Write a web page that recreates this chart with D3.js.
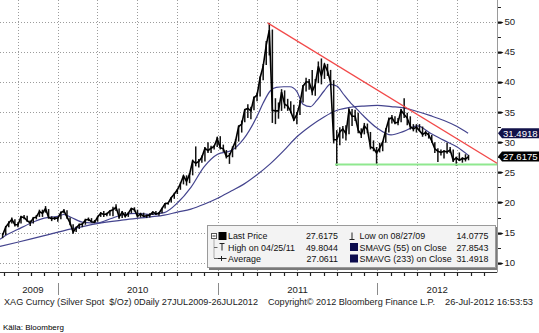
<!DOCTYPE html>
<html>
<head>
<meta charset="utf-8">
<script src="https://cdn.jsdelivr.net/npm/d3@7"></script>
<style>
  html, body { margin: 0; padding: 0; background: #fff; }
  svg { display: block; font-family: "Liberation Sans", Arial, sans-serif; }
  .pre { white-space: pre; }
</style>
</head>
<body>
<svg id="chart" width="539" height="333"></svg>
<script>
// ---- Silver spot (XAG), weekly bars, Aug 2009 – Jul 2012 ----
const axisStart = "2009-08-22";
const axisEnd = "2012-09-30";
const firstWeek = "2009-08-28";
const lastWeekEnd = "2012-07-28";

const priceClose = [
  14.6,15.9,16.6,17.2,16.3,16.3,17.6,17.5,17.0,16.6,
  17.4,17.6,18.5,18.2,19.0,17.5,17.3,17.4,17.4,18.3,
  18.6,17.6,16.6,15.1,15.8,16.3,16.4,17.1,17.2,16.8,
  16.7,17.6,18.2,18.0,18.1,18.6,18.8,19.2,17.6,18.4,
  17.7,18.2,19.0,18.8,17.7,18.1,17.7,17.8,17.9,18.4,
  18.1,18.2,19.0,19.8,19.9,20.8,21.4,22.1,23.1,24.4,
  23.5,24.7,26.9,26.5,26.8,27.5,29.0,28.6,29.0,29.3,
  30.6,29.1,28.9,27.6,27.8,29.0,30.2,32.6,33.0,35.4,
  35.6,35.2,37.4,37.8,40.7,42.6,46.1,48.6,35.3,35.2,
  35.2,38.3,36.3,36.0,35.1,33.7,34.6,36.4,39.3,40.0,
  40.0,38.4,39.6,42.6,41.0,42.9,41.8,39.9,30.4,30.4,
  31.7,32.2,31.4,35.3,34.3,34.3,32.0,31.3,32.7,32.1,
  29.2,29.0,28.2,29.0,30.0,32.0,33.8,34.1,33.2,33.3,
  35.3,34.6,34.0,32.6,32.2,32.5,31.9,31.3,31.6,31.2,
  30.2,28.9,28.5,28.3,28.5,28.4,28.7,27.0,27.4,27.0,
  27.3,27.2,27.6175
];
const priceHigh = [
  14.9,16.1,16.9,17.5,17.2,16.7,17.8,17.9,17.8,17.0,
  17.6,17.9,18.8,18.8,19.4,18.9,17.7,17.6,17.5,18.5,
  18.9,18.7,17.5,16.4,16.0,16.5,16.6,17.3,17.5,17.4,
  17.1,17.8,18.4,18.6,18.3,18.7,19.3,19.7,19.0,18.6,
  18.4,18.4,19.1,19.2,18.8,18.3,18.3,18.0,18.2,18.5,
  18.6,18.4,19.1,19.9,20.0,20.9,21.6,22.2,23.3,24.5,
  24.5,24.9,27.1,29.3,27.2,27.8,29.2,30.0,29.4,29.5,
  30.9,31.0,29.6,28.7,28.2,29.3,30.5,32.8,33.6,35.5,
  36.3,35.9,37.6,38.2,40.9,43.0,46.8,49.8044,48.7,37.3,
  36.6,38.8,38.6,37.2,36.8,36.2,35.0,37.0,39.5,40.7,
  40.5,42.0,40.5,43.4,43.9,43.1,43.0,42.0,40.3,32.0,
  32.5,32.7,32.8,35.6,35.5,35.4,34.9,32.3,33.2,33.1,
  31.7,30.3,29.2,29.9,30.2,32.3,34.1,34.5,34.3,34.0,
  35.5,37.3,34.9,34.3,33.0,33.0,33.0,32.6,31.9,31.6,
  31.2,30.0,29.0,28.8,28.7,29.9,29.2,28.8,27.6,28.3,
  27.5,28.0,27.9
];
const priceLow = [
  14.0775,14.6,15.9,16.5,16.0,15.9,16.5,17.2,16.8,16.1,
  16.5,17.2,17.6,17.6,18.3,17.3,16.9,17.1,16.8,17.2,
  18.2,17.3,16.2,14.8,15.1,15.6,15.9,16.3,16.9,16.7,
  16.6,16.8,17.6,17.6,17.7,17.8,17.7,18.6,17.3,17.4,
  17.5,17.6,18.2,18.5,17.5,17.5,17.6,17.4,17.5,17.9,
  17.9,17.8,18.2,19.0,19.6,20.0,20.6,21.4,22.1,23.0,
  22.8,23.2,24.5,26.0,25.8,26.6,26.8,28.2,28.2,28.8,
  29.2,28.8,28.4,27.3,26.4,27.5,28.8,30.1,31.6,33.3,
  34.0,33.8,35.3,36.8,37.6,40.3,42.8,44.4,33.2,33.0,
  33.9,35.2,35.6,35.2,34.8,33.5,33.0,34.5,36.6,38.4,
  38.7,37.8,37.7,39.8,39.6,40.5,41.0,39.5,29.8,26.1,
  29.5,30.6,30.3,31.3,32.7,33.5,31.5,30.7,31.3,31.5,
  28.8,28.5,26.2,28.3,28.5,29.9,31.6,33.1,33.0,32.8,
  33.3,34.0,32.8,32.1,31.8,31.6,31.8,30.9,31.0,30.6,
  29.9,28.2,26.7,27.8,27.3,28.1,28.2,26.7,26.1,26.9,
  26.6,26.8,27.0
];

// 55-day simple moving average
const sma55Dates = [
  "2009-08-22","2009-09-01","2009-10-01","2009-11-01","2009-12-01","2010-01-01","2010-01-15",
  "2010-02-01","2010-03-01","2010-04-01","2010-05-01","2010-06-01","2010-07-01","2010-08-01",
  "2010-09-01","2010-10-01","2010-11-01","2010-12-01","2011-01-01","2011-02-01","2011-03-01",
  "2011-04-01","2011-04-15","2011-05-01","2011-05-15","2011-06-01","2011-06-15","2011-07-01",
  "2011-07-15","2011-08-01","2011-08-15","2011-09-01","2011-09-15","2011-10-01","2011-10-15",
  "2011-11-01","2011-11-15","2011-12-01","2012-01-01","2012-02-01","2012-03-01","2012-04-01",
  "2012-05-01","2012-06-01","2012-07-01","2012-07-26"
];
const sma55Values = [
  13.9,14.4,15.5,16.6,17.4,17.7,18.0,
  17.5,16.7,16.6,17.3,18.0,18.2,18.0,
  18.3,19.9,22.5,25.9,28.0,28.6,30.5,
  34.3,36.5,38.5,39.1,39.2,39.2,38.4,
  36.3,35.9,36.9,38.5,39.6,39.3,38.0,
  36.5,35.5,34.3,32.3,31.2,31.8,32.7,
  31.5,30.3,29.2,27.8543
];

// 233-day simple moving average
const sma233Dates = [
  "2009-08-22","2009-10-01","2009-12-01","2010-02-01","2010-04-01","2010-06-01","2010-08-01",
  "2010-09-01","2010-10-01","2010-11-01","2010-12-01","2011-01-01","2011-02-01","2011-03-01",
  "2011-04-01","2011-05-01","2011-06-01","2011-07-01","2011-08-01","2011-09-01","2011-10-01",
  "2011-11-01","2011-12-01","2012-01-01","2012-02-01","2012-03-01","2012-04-01","2012-05-01",
  "2012-06-01","2012-07-01","2012-07-26"
];
const sma233Values = [
  12.7,13.4,14.5,15.6,16.5,17.1,17.6,
  17.9,18.4,18.9,19.7,20.7,21.9,23.0,
  24.6,26.4,28.6,30.9,32.7,34.2,35.3,
  35.8,36.0,36.1,35.9,35.7,35.1,34.4,
  33.6,32.6,31.4918
];

// Hand-drawn trend lines
const resistanceDates = ["2011-04-25", "2012-09-30"];
const resistanceValues = [49.8044, 26.5];
const supportDates = ["2011-09-26", "2012-09-30"];
const supportValues = [26.3, 26.3];

const yTicks = [10, 15, 20, 25, 30, 35, 40, 45, 50];
const yMinorTicks = [12.5, 17.5, 22.5, 27.5, 32.5, 37.5, 42.5, 47.5, 52.5];
const yearLabels = ["2009", "2010", "2011", "2012"];

const legendLeft = [
  ["Last Price", "27.6175"],
  ["High on 04/25/11", "49.8044"],
  ["Average", "27.0611"]
];
const legendRight = [
  ["Low on 08/27/09", "14.0775"],
  ["SMAVG (55) on Close", "27.8543"],
  ["SMAVG (233) on Close", "31.4918"]
];

const footerParts = [
  "XAG Curncy (Silver Spot  $/Oz) 0Daily 27JUL2009-26JUL2012",
  "Copyright\u00A9 2012 Bloomberg Finance L.P.",
  "26-Jul-2012 16:53:53"
];
const sourceNote = "Källa: Bloomberg";

// ---- drawing ----
const svg = d3.select("#chart");
const parse = d3.timeParse("%Y-%m-%d");
const plotRight = 497, plotBottom = 272.5;

const x = d3.scaleTime().domain([parse(axisStart), parse(axisEnd)]).range([0, plotRight]);
const y = d3.scaleLinear().domain([10, 50]).range([262.7, 21.7]);

const weeks = d3.timeFriday.range(parse(firstWeek), parse(lastWeekEnd)).slice(0, priceClose.length);
const bars = weeks.map((d, i) => ({ date: d, close: priceClose[i], high: priceHigh[i], low: priceLow[i] }));

svg.append("rect").attr("width", 539).attr("height", 333).attr("fill", "#fff");

svg.append("defs").append("clipPath").attr("id", "plotClip")
  .append("rect").attr("x", 0).attr("y", 0).attr("width", plotRight).attr("height", plotBottom);

// grid
const grid = svg.append("g").attr("stroke", "#9c9c9c").attr("stroke-dasharray", "1,2").attr("stroke-width", 1);
grid.selectAll("line.h").data(yTicks).join("line")
  .attr("x1", 0).attr("x2", plotRight)
  .attr("y1", d => Math.round(y(d)) + 0.5).attr("y2", d => Math.round(y(d)) + 0.5);
const quarters = d3.timeMonth.every(3).range(parse("2009-09-02"), parse("2012-09-01"));
grid.selectAll("line.v").data(quarters).join("line")
  .attr("x1", d => Math.round(x(d)) + 0.5).attr("x2", d => Math.round(x(d)) + 0.5)
  .attr("y1", 0).attr("y2", plotBottom);

const plot = svg.append("g").attr("clip-path", "url(#plotClip)");

const smaLine = d3.line().x(d => x(d[0])).y(d => y(d[1])).curve(d3.curveMonotoneX);
plot.append("path")
  .datum(sma233Dates.map((d, i) => [parse(d), sma233Values[i]]))
  .attr("d", smaLine).attr("fill", "none").attr("stroke", "#44448e").attr("stroke-width", 1.2);
plot.append("path")
  .datum(sma55Dates.map((d, i) => [parse(d), sma55Values[i]]))
  .attr("d", smaLine).attr("fill", "none").attr("stroke", "#44448e").attr("stroke-width", 1.2);

// price bars (high-low) and close line
plot.append("g").selectAll("line").data(bars).join("line")
  .attr("x1", d => x(d.date)).attr("x2", d => x(d.date))
  .attr("y1", d => y(d.high)).attr("y2", d => y(d.low))
  .attr("stroke", "#111").attr("stroke-width", 1.5);
plot.append("path").datum(bars)
  .attr("d", d3.line().x(d => x(d.date)).y(d => y(d.close)))
  .attr("fill", "none").attr("stroke", "#000").attr("stroke-width", 1.6);

// trend lines
const trend = d3.line().x(d => x(d[0])).y(d => y(d[1]));
plot.append("path")
  .datum(supportDates.map((d, i) => [parse(d), supportValues[i]]))
  .attr("d", trend).attr("stroke", "#8fe88f").attr("stroke-width", 2.2).attr("fill", "none");
plot.append("path")
  .datum(resistanceDates.map((d, i) => [parse(d), resistanceValues[i]]))
  .attr("d", trend).attr("stroke", "#f24a4a").attr("stroke-width", 1.2).attr("fill", "none");

// legend box
const lg = svg.append("g").attr("font-size", "8.9px").attr("fill", "#111");
lg.append("rect").attr("x", 209).attr("y", 227).attr("width", 289).attr("height", 43).attr("fill", "#7a7a7a");
lg.append("rect").attr("x", 207.5).attr("y", 225.5).attr("width", 288).attr("height", 42)
  .attr("fill", "#f3f3f3").attr("stroke", "#9a9a9a");
const rowY = [239.3, 250.6, 262];
// tree connector
lg.append("rect").attr("x", 211.5).attr("y", 233.5).attr("width", 5).attr("height", 5)
  .attr("fill", "#fff").attr("stroke", "#555");
lg.append("line").attr("x1", 212.5).attr("x2", 215.5).attr("y1", 236).attr("y2", 236).attr("stroke", "#333");
lg.append("line").attr("x1", 214).attr("x2", 214).attr("y1", 238.5).attr("y2", 258.5)
  .attr("stroke", "#666").attr("stroke-dasharray", "1,1");
[247.5, 258.5].forEach(yy => lg.append("line").attr("x1", 214).attr("x2", 217.5)
  .attr("y1", yy).attr("y2", yy).attr("stroke", "#666"));
// icons
lg.append("rect").attr("x", 218.5).attr("y", 232).attr("width", 8).attr("height", 8).attr("fill", "#000");
lg.append("line").attr("x1", 219.5).attr("x2", 224.5).attr("y1", 243.5).attr("y2", 243.5).attr("stroke", "#222");
lg.append("line").attr("x1", 222).attr("x2", 222).attr("y1", 243.5).attr("y2", 250.5).attr("stroke", "#222");
lg.append("line").attr("x1", 217.5).attr("x2", 226.5).attr("y1", 258.5).attr("y2", 258.5).attr("stroke", "#222");
lg.append("line").attr("x1", 221.5).attr("x2", 221.5).attr("y1", 256).attr("y2", 261).attr("stroke", "#222");
lg.append("line").attr("x1", 352).attr("x2", 352).attr("y1", 232.5).attr("y2", 239.5).attr("stroke", "#222");
lg.append("line").attr("x1", 349.5).attr("x2", 354.5).attr("y1", 239.5).attr("y2", 239.5).attr("stroke", "#222");
[243, 254.5].forEach(yy => lg.append("rect").attr("x", 350).attr("y", yy).attr("width", 8).attr("height", 8).attr("fill", "#0c0c4e"));
legendLeft.forEach((r, i) => {
  lg.append("text").attr("x", 228).attr("y", rowY[i]).text(r[0]);
  lg.append("text").attr("x", 338).attr("y", rowY[i]).attr("text-anchor", "end").text(r[1]);
});
legendRight.forEach((r, i) => {
  lg.append("text").attr("x", 359.5).attr("y", rowY[i]).text(r[0]);
  lg.append("text").attr("x", 488.5).attr("y", rowY[i]).attr("text-anchor", "end").text(r[1]);
});

// right value axis
const ax = svg.append("g");
ax.append("line").attr("x1", plotRight + 0.5).attr("x2", plotRight + 0.5).attr("y1", 0).attr("y2", plotBottom)
  .attr("stroke", "#9a9a9a");
ax.selectAll("line.minor").data(yMinorTicks).join("line")
  .attr("x1", plotRight + 1).attr("x2", plotRight + 4)
  .attr("y1", d => Math.round(y(d)) + 0.5).attr("y2", d => Math.round(y(d)) + 0.5)
  .attr("stroke", "#222");
ax.selectAll("path.major").data(yTicks).join("path")
  .attr("d", d => {
    const c = Math.round(y(d)) + 0.5;
    return `M${plotRight + 1},${c - 1}L${plotRight + 4},${c - 1}L${plotRight + 6.5},${c}L${plotRight + 4},${c + 1.2}L${plotRight + 1},${c + 1.2}Z`;
  })
  .attr("fill", "#111");
ax.selectAll("text").data(yTicks).join("text")
  .attr("x", 504.5).attr("y", d => y(d) + 3.5)
  .attr("font-size", "9.6px").attr("fill", "#222").text(d => d);

// last-value tags
const tags = [
  { v: sma233Values[sma233Values.length - 1], fill: "#12124a" },
  { v: priceClose[priceClose.length - 1], fill: "#000" }
];
tags.forEach(t => {
  const c = y(t.v);
  svg.append("path")
    .attr("d", `M${plotRight + 1},${c}L${plotRight + 5},${c - 5}L539,${c - 5}L539,${c + 5}L${plotRight + 5},${c + 5}Z`)
    .attr("fill", t.fill);
  svg.append("text").attr("x", 503).attr("y", c + 3.4).attr("font-size", "9.6px")
    .attr("fill", "#fff").text(t.v.toFixed(4));
});

// time axis
const tx = svg.append("g");
tx.append("line").attr("x1", 0).attr("x2", plotRight).attr("y1", plotBottom).attr("y2", plotBottom).attr("stroke", "#333");
const months = d3.timeMonth.range(parse("2009-08-23"), parse("2012-09-30"));
tx.selectAll("line.m").data(months).join("line")
  .attr("x1", d => Math.round(x(d)) + 0.5).attr("x2", d => Math.round(x(d)) + 0.5)
  .attr("y1", plotBottom).attr("y2", plotBottom + 3.5)
  .attr("stroke", "#222").attr("stroke-width", 1.2);
const yearStarts = [parse("2010-01-01"), parse("2011-01-01"), parse("2012-01-01")];
tx.selectAll("line.yr").data(yearStarts).join("line")
  .attr("x1", d => Math.round(x(d)) + 0.5).attr("x2", d => Math.round(x(d)) + 0.5)
  .attr("y1", 283).attr("y2", 295).attr("stroke", "#8a8a8a");
const yearBounds = [8, ...yearStarts.map(d => x(d)), plotRight];
tx.selectAll("text").data(yearLabels).join("text")
  .attr("x", (d, i) => (yearBounds[i] + yearBounds[i + 1]) / 2)
  .attr("y", 292.5).attr("text-anchor", "middle")
  .attr("font-size", "9.6px").attr("fill", "#222").text(d => d);

// footer
const footX = [[4, 254], [268, 167], [445, 88]];
footerParts.forEach((s, i) => {
  svg.append("text").attr("class", "pre").attr("x", footX[i][0]).attr("y", 304.5)
    .attr("font-size", "9.4px").attr("fill", "#222")
    .attr("textLength", footX[i][1]).attr("lengthAdjust", "spacingAndGlyphs").text(s);
});
svg.append("text").attr("x", 3).attr("y", 329.5).attr("font-size", "8px").attr("fill", "#000").text(sourceNote);
</script>
</body>
</html>
